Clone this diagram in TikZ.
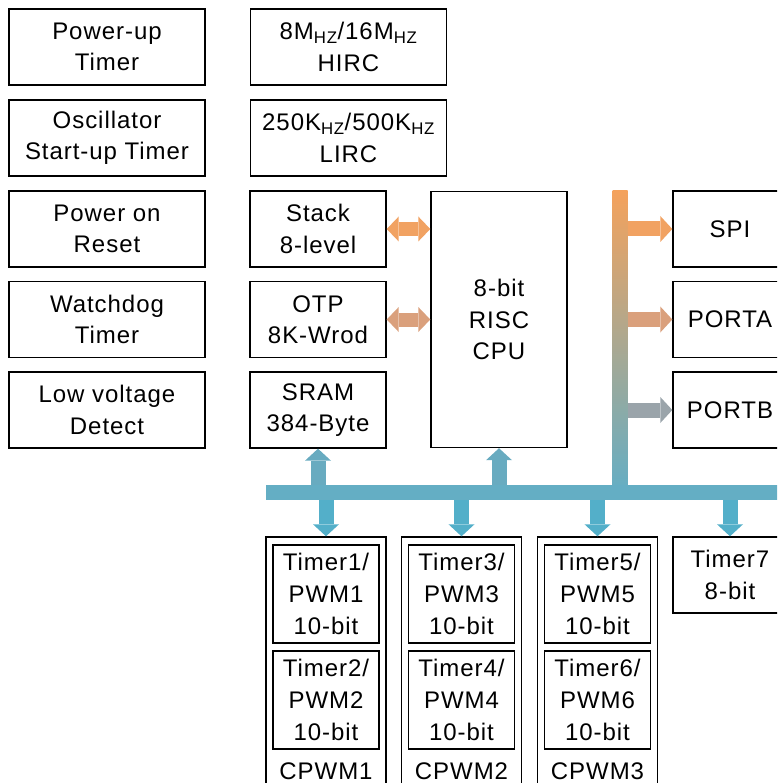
\documentclass[tikz,border=0pt]{standalone}
\usepackage{fontspec}
\setmainfont[LetterSpace=4]{Liberation Sans}
\usepackage{tikz}
\usetikzlibrary{arrows.meta,positioning,fit,backgrounds}
\usepackage{xcolor}
\definecolor{busorange}{HTML}{F4A25C}
\definecolor{busmid}{HTML}{C9A38E}
\definecolor{busblue}{HTML}{64AEC4}
\definecolor{spiorange}{HTML}{F1A262}
\definecolor{otptan}{HTML}{DAA07C}
\definecolor{portgrey}{HTML}{9AA4AA}
\definecolor{upblue}{HTML}{68ABC0}
\definecolor{downblue}{HTML}{53AFC9}
\newcommand{\hz}{\textsubscript{HZ}}
\tikzset{
  blk/.style   ={draw, line width=1.4pt, inner sep=0pt, align=center,
                 font=\fontsize{24}{31.5}\selectfont},
  wblk/.style  ={blk, minimum width=196pt, minimum height=76pt},
  nblk/.style  ={blk, minimum width=136pt, minimum height=76pt},
  rblk/.style  ={blk, minimum width=114pt, minimum height=76pt},
  tmrblk/.style={blk, minimum width=106pt, minimum height=98pt,
                 font=\fontsize{24}{32}\selectfont},
  grpblk/.style={draw, line width=1.4pt, inner sep=0pt,
                 minimum width=120pt, minimum height=263pt},
  grplbl/.style={inner sep=0pt, font=\fontsize{24}{32}\selectfont},
  onearr/.style={line width=15pt,
                 -{Triangle[width=26pt,length=12pt,line width=0pt]}},
  twoarr/.style={line width=14pt,
                 {Triangle[width=25pt,length=12pt,line width=0pt]}-%
                 {Triangle[width=25pt,length=12pt,line width=0pt]}},
}
\begin{document}
\begin{tikzpicture}[x=1pt, y=-1pt]
  \useasboundingbox (0,0) rectangle (777,783);
  \clip (0,0) rectangle (777,783);
  % ---- left column: reset and timing blocks
  \node[wblk] (put) at (107,47)    {Power-up\\Timer};
  \node[wblk] (ost) at (107,138)   {Oscillator\\Start-up Timer};
  \node[wblk] (por) at (107,229)   {Power on\\Reset};
  \node[wblk] (wdt) at (107,319.5) {Watchdog\\Timer};
  \node[wblk] (lvd) at (107,410)   {Low voltage\\Detect};
  % ---- clocks, memories and the core
  \node[wblk] (hirc)  at (348.5,47)  {8M\hz/16M\hz\\HIRC};
  \node[wblk] (lirc)  at (348.5,138) {250K\hz/500K\hz\\LIRC};
  \node[nblk] (stack) at (318,229)   {Stack\\8-level};
  \node[nblk] (otp)   at (318,319.5) {OTP\\8K-Wrod};
  \node[nblk] (sram)  at (318,410)   {SRAM\\384-Byte};
  \node[nblk, minimum height=256pt] (cpu) at (499,319.5) {8-bit\\RISC\\CPU};
  \draw[twoarr, spiorange] (stack.east) -- (stack.east -| cpu.west);
  \draw[twoarr, otptan]    (otp.east)   -- (otp.east -| cpu.west);
  % ---- peripherals on the right
  \node[rblk] (spi)   at (730,229)   {SPI};
  \node[rblk] (porta) at (730,319.5) {PORTA};
  \node[rblk] (portb) at (730,410)   {PORTB};
  \draw[onearr, spiorange] (spi.west -| 620,0)   -- (spi.west);
  \draw[onearr, otptan]    (porta.west -| 620,0) -- (porta.west);
  \draw[onearr, portgrey]  (portb.west -| 620,0) -- (portb.west);
  % ---- timers below the bus
  \node[grpblk] (cpwm1) at (326,668.5)   {};
  \node[grpblk] (cpwm2) at (461.5,668.5) {};
  \node[grpblk] (cpwm3) at (597.5,668.5) {};
  \node[tmrblk] (t1) at (326,594)   {Timer1/\\PWM1\\10-bit};
  \node[tmrblk] (t2) at (326,700)   {Timer2/\\PWM2\\10-bit};
  \node[tmrblk] (t3) at (461.5,594) {Timer3/\\PWM3\\10-bit};
  \node[tmrblk] (t4) at (461.5,700) {Timer4/\\PWM4\\10-bit};
  \node[tmrblk] (t5) at (597.5,594) {Timer5/\\PWM5\\10-bit};
  \node[tmrblk] (t6) at (597.5,700) {Timer6/\\PWM6\\10-bit};
  \node[grplbl] (cpwm1l) at (326,771)   {CPWM1};
  \node[grplbl] (cpwm2l) at (461.5,771) {CPWM2};
  \node[grplbl] (cpwm3l) at (597.5,771) {CPWM3};
  \node[rblk] (t7) at (730,575) {Timer7\\8-bit};
  % ---- the bus itself
  \node[inner sep=0pt, minimum width=15pt, minimum height=300pt,
        top color=busorange, middle color=busmid, bottom color=busblue]
        (vbus) at (620,341) {};
  \node[inner sep=0pt, minimum width=530pt, minimum height=15pt,
        fill=busblue] (hbus) at (531,492.5) {};
  \draw[onearr, upblue] (sram.south |- hbus.north) -- (sram.south);
  \draw[onearr, upblue] (cpu.south |- hbus.north)  -- (cpu.south);
  \foreach \n in {cpwm1,cpwm2,cpwm3,t7}
    \draw[onearr, downblue] (\n.north |- hbus.south) -- (\n.north);
\end{tikzpicture}
\end{document}
